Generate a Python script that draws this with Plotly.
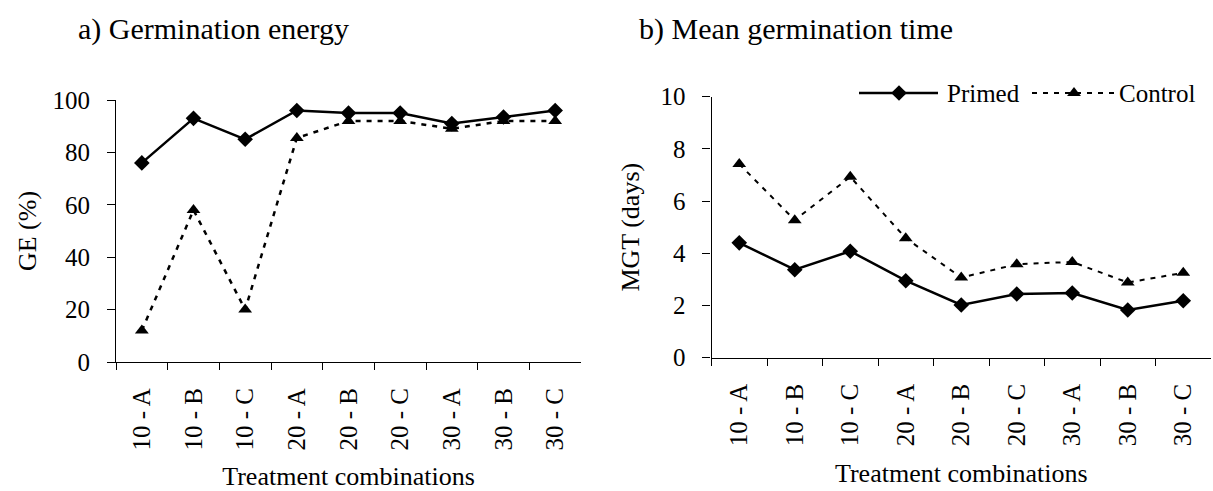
import plotly.graph_objects as go

# Treatment combinations (priming duration - treatment)
categories = ["10 - A", "10 - B", "10 - C", "20 - A", "20 - B",
              "20 - C", "30 - A", "30 - B", "30 - C"]

# a) Germination energy (%)
ge_primed = [76, 93, 85, 96, 95, 95, 91, 93.5, 96]
ge_control = [12, 58, 20, 85.5, 92, 92, 89, 92, 92]

# b) Mean germination time (days)
mgt_primed = [4.4, 3.37, 4.08, 2.95, 2.02, 2.44, 2.48, 1.83, 2.18]
mgt_control = [7.42, 5.27, 6.93, 4.58, 3.07, 3.58, 3.67, 2.88, 3.25]

series_names = ["Primed", "Control"]

W, H = 1213, 491
FONT = "Liberation Serif, Times New Roman, serif"
BLACK = "#000000"


def px_x(p):
    return p / W


def px_y(p):
    return 1 - p / H


fig = go.Figure()

primed_style = dict(mode="lines+markers", line=dict(color=BLACK, width=2.5),
                    marker=dict(symbol="diamond", size=12, color=BLACK))
control_style = dict(mode="lines+markers",
                     line=dict(color=BLACK, width=2.5, dash="5px,6px"),
                     marker=dict(symbol="triangle-up", size=12, color=BLACK))

fig.add_trace(go.Scatter(x=categories, y=ge_control, xaxis="x", yaxis="y",
                         name=series_names[1], showlegend=False, **control_style))
fig.add_trace(go.Scatter(x=categories, y=ge_primed, xaxis="x", yaxis="y",
                         name=series_names[0], showlegend=False, **primed_style))

control_style_b = dict(control_style)
control_style_b["line"] = dict(color=BLACK, width=2, dash="5px,6px")
fig.add_trace(go.Scatter(x=categories, y=mgt_control, xaxis="x2", yaxis="y2",
                         name=series_names[1], showlegend=False, **control_style_b))
fig.add_trace(go.Scatter(x=categories, y=mgt_primed, xaxis="x2", yaxis="y2",
                         name=series_names[0], showlegend=False, **primed_style))

# Legend samples drawn on a pixel-scaled overlay axis
leg_y = 93
fig.add_trace(go.Scatter(x=[859, 938], y=[leg_y, leg_y], xaxis="x3", yaxis="y3",
                         mode="lines", line=dict(color=BLACK, width=2.5),
                         showlegend=False, hoverinfo="skip"))
fig.add_trace(go.Scatter(x=[899], y=[leg_y], xaxis="x3", yaxis="y3",
                         mode="markers", marker=dict(symbol="diamond", size=12, color=BLACK),
                         showlegend=False, hoverinfo="skip"))
fig.add_trace(go.Scatter(x=[1032, 1117], y=[leg_y, leg_y], xaxis="x3", yaxis="y3",
                         mode="lines", line=dict(color=BLACK, width=2, dash="5px,6px"),
                         showlegend=False, hoverinfo="skip"))
fig.add_trace(go.Scatter(x=[1074], y=[leg_y], xaxis="x3", yaxis="y3",
                         mode="markers", marker=dict(symbol="triangle-up", size=12, color=BLACK),
                         showlegend=False, hoverinfo="skip"))

tick_font = dict(family=FONT, size=25, color=BLACK)
title_font = dict(family=FONT, size=26, color=BLACK)

xaxis_common = dict(
    type="category", range=[-0.5, 8.5], tickangle=-90, tickson="boundaries",
    ticks="outside", ticklen=7, tickwidth=1.2, tickcolor=BLACK,
    showline=True, linecolor=BLACK, linewidth=1.2, showgrid=False,
    zeroline=False, tickfont=tick_font, ticklabelstandoff=15,
    title=dict(text="Treatment combinations", font=title_font, standoff=18),
    fixedrange=True,
)
yaxis_common = dict(
    ticks="outside", ticklen=8, tickwidth=1.2, tickcolor=BLACK,
    showline=True, linecolor=BLACK, linewidth=1.2, showgrid=False,
    zeroline=False, tickfont=tick_font, ticklabelstandoff=12, fixedrange=True,
)

fig.update_layout(
    width=W, height=H,
    margin=dict(l=0, r=0, t=0, b=0, autoexpand=False),
    paper_bgcolor="white", plot_bgcolor="rgba(0,0,0,0)",
    font=dict(family=FONT, color=BLACK),
    showlegend=False,
    xaxis=dict(domain=[px_x(116), px_x(581)], anchor="y", **xaxis_common),
    yaxis=dict(domain=[px_y(362), px_y(100)], anchor="x", range=[0, 100], dtick=20,
               title=dict(text="GE (%)", font=title_font, standoff=8),
               **yaxis_common),
    xaxis2=dict(domain=[px_x(711.5), px_x(1211)], anchor="y2", **xaxis_common),
    yaxis2=dict(domain=[px_y(357.7), px_y(96.7)], anchor="x2", range=[0, 10], dtick=2,
                title=dict(text="MGT (days)", font=title_font, standoff=13),
                **yaxis_common),
    xaxis3=dict(domain=[0, 1], anchor="y3", range=[0, W], visible=False, fixedrange=True),
    yaxis3=dict(domain=[0, 1], anchor="x3", range=[H, 0], visible=False, fixedrange=True),
    annotations=[
        dict(text="a) Germination energy", x=px_x(76), y=px_y(29), xref="paper", yref="paper",
             xanchor="left", yanchor="middle", showarrow=False,
             font=dict(family=FONT, size=30, color=BLACK)),
        dict(text="b) Mean germination time", x=px_x(637), y=px_y(29), xref="paper", yref="paper",
             xanchor="left", yanchor="middle", showarrow=False,
             font=dict(family=FONT, size=30, color=BLACK)),
        dict(text=series_names[0], x=px_x(945), y=px_y(leg_y), xref="paper", yref="paper",
             xanchor="left", yanchor="middle", showarrow=False,
             font=dict(family=FONT, size=25, color=BLACK)),
        dict(text=series_names[1], x=px_x(1117), y=px_y(leg_y), xref="paper", yref="paper",
             xanchor="left", yanchor="middle", showarrow=False,
             font=dict(family=FONT, size=25, color=BLACK)),
    ],
)

fig.write_html("out.html")
